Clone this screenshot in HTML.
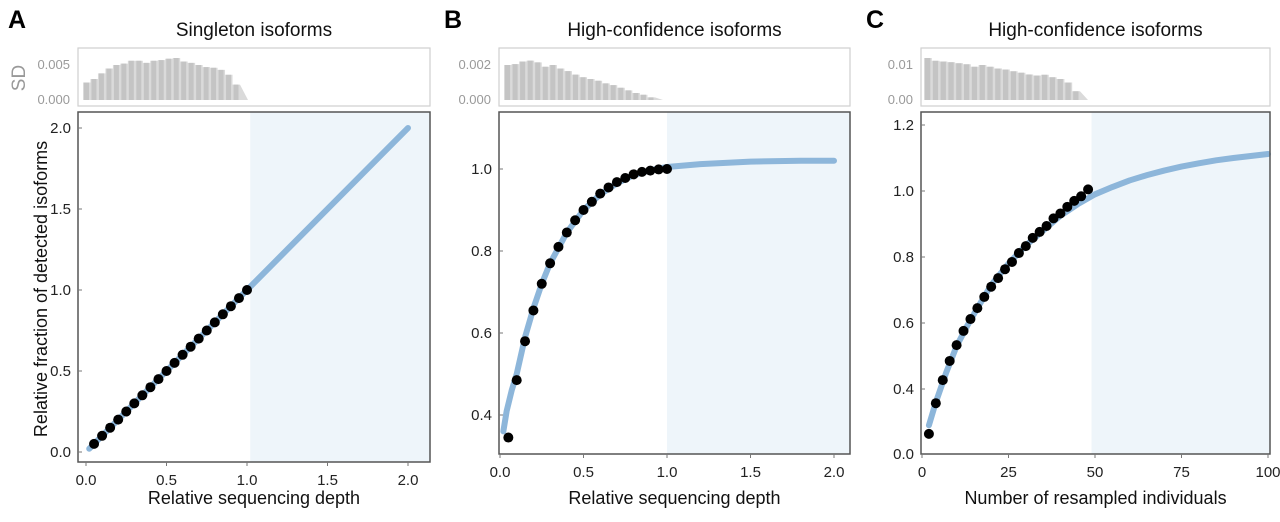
<!DOCTYPE html>
<html><head><meta charset="utf-8"><style>
body{margin:0;background:#fff;width:1280px;height:517px;overflow:hidden;font-family:"Liberation Sans",Arial,sans-serif}
</style></head><body>
<svg id="fig" width="1280" height="517" xmlns="http://www.w3.org/2000/svg" font-family="Liberation Sans, Arial, sans-serif"></svg>
<script>
// Panel A data
const aX = [0.05,0.1,0.15,0.2,0.25,0.3,0.35,0.4,0.45,0.5,0.55,0.6,0.65,0.7,0.75,0.8,0.85,0.9,0.95,1.0];
const aY = [0.05,0.1,0.15,0.2,0.25,0.3,0.35,0.4,0.45,0.5,0.55,0.6,0.65,0.7,0.75,0.8,0.85,0.9,0.95,1.0];
const aCurveX = [0.02,1.0,2.0];
const aCurveY = [0.02,1.0,2.0];
const aSD = [2.5,3.0,3.8,4.5,5.0,5.2,5.6,5.6,5.3,5.6,5.7,5.9,6.0,5.5,5.3,5.0,4.7,4.6,4.3,3.6,2.2];
const aXTicks = [0,0.5,1.0,1.5,2.0];
const aXTickLabels = ["0.0","0.5","1.0","1.5","2.0"];
const aYTicks = [0,0.5,1.0,1.5,2.0];
const aYTickLabels = ["0.0","0.5","1.0","1.5","2.0"];
// Panel B data
const bX = [0.05,0.1,0.15,0.2,0.25,0.3,0.35,0.4,0.45,0.5,0.55,0.6,0.65,0.7,0.75,0.8,0.85,0.9,0.95,1.0];
const bY = [0.345,0.485,0.58,0.655,0.72,0.77,0.81,0.845,0.875,0.9,0.92,0.94,0.955,0.968,0.978,0.987,0.993,0.996,0.999,1.0];
const bCurveX = [0.02,0.04,0.07,0.1,0.15,0.2,0.25,0.3,0.4,0.5,0.6,0.7,0.8,0.9,1.0,1.2,1.5,1.8,2.0];
const bCurveY = [0.36,0.41,0.46,0.5,0.59,0.66,0.72,0.77,0.845,0.9,0.938,0.965,0.985,0.997,1.005,1.012,1.018,1.02,1.02];
const bSD = [2.0,2.05,2.2,2.25,2.15,1.9,2.0,1.8,1.65,1.45,1.3,1.2,1.1,0.95,0.85,0.7,0.55,0.4,0.3,0.15];
const bXTicks = [0,0.5,1.0,1.5,2.0];
const bXTickLabels = ["0.0","0.5","1.0","1.5","2.0"];
const bYTicks = [0.4,0.6,0.8,1.0];
const bYTickLabels = ["0.4","0.6","0.8","1.0"];
// Panel C data
const cX = [2,4,6,8,10,12,14,16,18,20,22,24,26,28,30,32,34,36,38,40,42,44,46,48];
const cY = [0.264,0.357,0.427,0.485,0.533,0.576,0.612,0.645,0.679,0.71,0.736,0.763,0.785,0.812,0.833,0.858,0.876,0.894,0.917,0.932,0.952,0.97,0.984,1.005];
const cCurveX = [2,4,7,10,13,16,20,25,30,35,40,45,50,55,60,65,70,75,80,85,90,95,100];
const cCurveY = [0.29,0.36,0.45,0.53,0.59,0.645,0.715,0.78,0.835,0.88,0.925,0.96,0.99,1.012,1.032,1.048,1.062,1.074,1.084,1.093,1.1,1.106,1.112];
const cSD = [12,11.2,11,10.8,10.5,10.2,9.5,10,9.5,9,8.7,8.2,7.8,7.3,7.0,7.2,6.5,6.0,5.0,2.5];
const cXTicks = [0,25,50,75,100];
const cXTickLabels = ["0","25","50","75","100"];
const cYTicks = [0.4,0.6,0.8,1.0,1.2];
const cYTickLabels = ["0.4","0.6","0.8","1.0","1.2"];

const svg = document.getElementById('fig');
const NS = 'http://www.w3.org/2000/svg';
function mk(tag, attrs, parent){const e=document.createElementNS(NS,tag);for(const k in attrs)e.setAttribute(k,attrs[k]);(parent||svg).appendChild(e);return e;}
function txt(s, attrs, parent){const e=mk('text',attrs,parent);e.textContent=s;return e;}

function panel(cfg){
  const g = mk('g',{});
  
  
  const xs = v => cfg.x0 + (v - cfg.xmin) * cfg.xk;
  const ys = v => cfg.y0 - (v - cfg.ymin) * cfg.yk;
  const L = txt(cfg.letter,{x:cfg.letterX,y:28,'font-size':25,'font-weight':'bold',fill:'#000'},g);
  
  
  const T = txt(cfg.title,{x:(cfg.bl+cfg.br)/2,y:36,'font-size':19,'text-anchor':'middle',fill:'#111'},g);
  
  
  const sdBox = mk('rect',{x:cfg.bl,y:48,width:cfg.br-cfg.bl,height:58,fill:'#fff',stroke:'#cfcfcf','stroke-width':1.2},g);
  
  
  const sdY = v => 100 - v * cfg.sdk;
  const n = cfg.sd.length;
  const bw = (cfg.sdEnd - cfg.sdStart) / n;
  let pts = `${cfg.sdStart},100 `;
  cfg.sd.forEach((v,i)=>{pts += `${cfg.sdStart+i*bw},${sdY(v)} ${cfg.sdStart+(i+1)*bw},${sdY(v)} `;});
  pts += `${cfg.sdEnd+8},100`;
  const area = mk('polygon',{points:pts,fill:'#dadada'},g);
  
  
  cfg.sd.forEach((v,i)=>{
    const b = mk('rect',{x:cfg.sdStart+i*bw+1,y:sdY(v),width:bw-2.5,height:100-sdY(v),fill:'#c4c4c4'},g);
    
    
  });
  cfg.sdLabels.forEach((s,i)=>{
    const t = txt(s,{x:cfg.bl-8,y:[69,104][i],'font-size':13,'text-anchor':'end',fill:'#9a9a9a'},g);
    
    
  });
  const sh = mk('rect',{x:xs(cfg.shadeFrom),y:112,width:cfg.br-xs(cfg.shadeFrom),height:cfg.bb-112,fill:'#eef5fa'},g);
  
  
  const d = cfg.cx.map((v,i)=>(i?'L':'M')+xs(v)+','+ys(cfg.cy[i])).join(' ');
  const line = mk('path',{d:d,fill:'none',stroke:'#8db6da','stroke-width':6,'stroke-linecap':'round','stroke-linejoin':'round'},g);
  
  
  cfg.px.forEach((v,i)=>{
    const c = mk('circle',{cx:xs(v),cy:ys(cfg.py[i]),r:5,fill:'#000'},g);
    
    
  });
  const box = mk('rect',{x:cfg.bl,y:112,width:cfg.br-cfg.bl,height:cfg.bb-112,fill:'none',stroke:'#555','stroke-width':1.5},g);
  
  
  cfg.xt.forEach((v,i)=>{
    mk('line',{x1:xs(v),x2:xs(v),y1:cfg.bb,y2:cfg.bb+4,stroke:'#777','stroke-width':1},g);
    const t = txt(cfg.xtl[i],{x:xs(v),y:cfg.bb+23,'font-size':15,'text-anchor':'middle',fill:'#222'},g);
    
    
  });
  cfg.yt.forEach((v,i)=>{
    mk('line',{x1:cfg.bl,x2:cfg.bl+4,y1:ys(v),y2:ys(v),stroke:'#777','stroke-width':1},g);
    const t = txt(cfg.ytl[i],{x:cfg.bl-7,y:ys(v)+5,'font-size':15,'text-anchor':'end',fill:'#222'},g);
    
    
  });
  if(cfg.extraZero){
    const t = txt('0.0',{x:cfg.bl-7,y:cfg.bb+5,'font-size':15,'text-anchor':'end',fill:'#222'},g);
    
    
  }
  const xt = txt(cfg.xlabel,{x:(cfg.bl+cfg.br)/2,y:504,'font-size':18,'text-anchor':'middle',fill:'#111'},g);
  
  
}

panel({name:'panel-a',letter:'A',letterX:8,title:'Singleton isoforms',bl:78,br:430,bb:462,
  x0:86,xmin:0,xk:161,y0:452,ymin:0,yk:162,shadeFrom:1.02,
  px:aX,py:aY,cx:aCurveX,cy:aCurveY,sd:aSD,sdk:7,sdStart:83,sdEnd:240,sdLabels:['0.005','0.000'],
  xt:aXTicks,xtl:aXTickLabels,yt:aYTicks,ytl:aYTickLabels,xlabel:'Relative sequencing depth'});
panel({name:'panel-b',letter:'B',letterX:444,title:'High-confidence isoforms',bl:499,br:850,bb:454,
  x0:500,xmin:0,xk:167,y0:169,ymin:1.0,yk:410,shadeFrom:1.0,
  px:bX,py:bY,cx:bCurveX,cy:bCurveY,sd:bSD,sdk:17.5,sdStart:504,sdEnd:655,sdLabels:['0.002','0.000'],
  xt:bXTicks,xtl:bXTickLabels,yt:bYTicks,ytl:bYTickLabels,xlabel:'Relative sequencing depth'});
panel({name:'panel-c',letter:'C',letterX:866,title:'High-confidence isoforms',bl:921,br:1270,bb:454,
  x0:922,xmin:0,xk:3.46,y0:191,ymin:1.0,yk:330,shadeFrom:49,extraZero:true,
  px:cX,py:cY,cx:cCurveX,cy:cCurveY,sd:cSD,sdk:3.5,sdStart:924,sdEnd:1080,sdLabels:['0.01','0.00'],
  xt:cXTicks,xtl:cXTickLabels,yt:cYTicks,ytl:cYTickLabels,xlabel:'Number of resampled individuals'});

const yl = txt('Relative fraction of detected isoforms',{x:0,y:0,'font-size':18,'text-anchor':'middle',fill:'#111',transform:'translate(47,289) rotate(-90)'});


const sdl = txt('SD',{x:0,y:0,'font-size':19,'text-anchor':'middle',fill:'#999',transform:'translate(25,78) rotate(-90)'});


</script>
</body></html>
